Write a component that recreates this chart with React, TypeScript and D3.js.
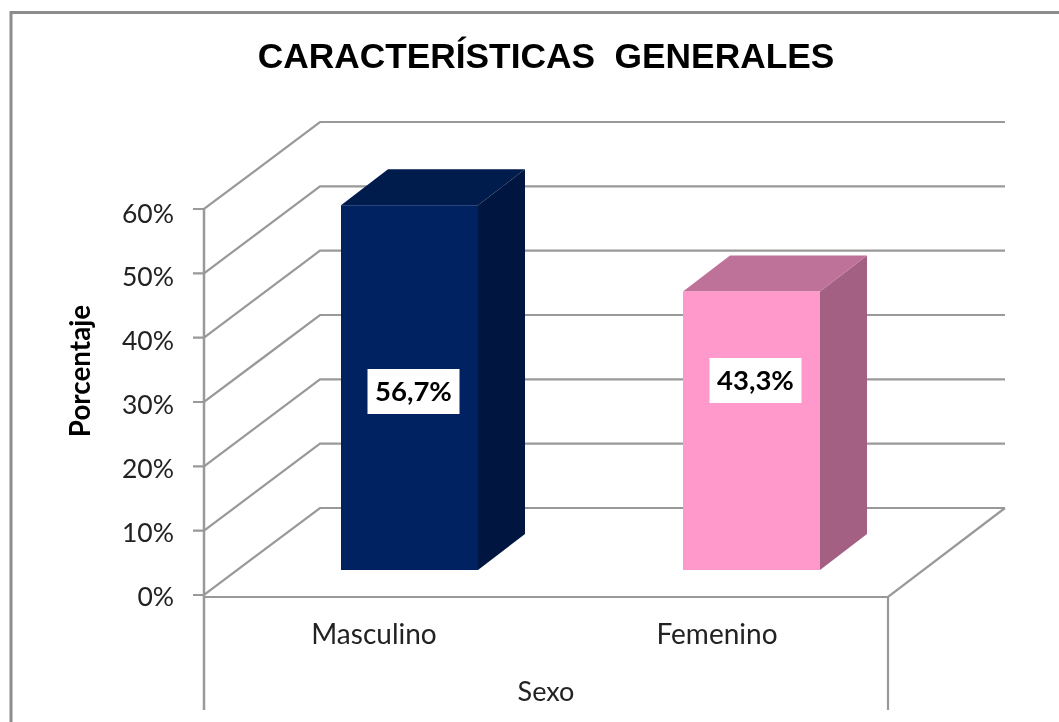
import React from "react";
import * as d3 from "d3";

const categories = ["Masculino", "Femenino"];
const values = [56.7, 43.3];
const valueLabels = ["56,7%", "43,3%"];
const ticks = [0, 10, 20, 30, 40, 50, 60];
const frontColors = ["#002060", "#ff99cc"];
const topColors = ["#001a4d", "#bf7299"];
const sideColors = ["#00173f", "#a36083"];

const W = 1059, H = 722;
const GRID = "#999999";
const y = d3.scaleLinear().domain([0, 60]).range([595, 209]);
const yLabel = d3.scaleLinear().domain([0, 60]).range([596, 213]);
const barX = d3.scaleBand().domain(categories).range([204, 888]);
const axisFont = "Lato, 'Open Sans', sans-serif";

export default function App() {
  const barW = 137;
  const dx = 116, dy = 87;
  const bdx = 47, bdy = 36;
  const baseOffset = 25;
  const depthShift = 34.5;
  const line = d3.line();
  return (
    <svg width={W} height={H} style={{ position: "absolute", left: 0, top: 0, background: "#fff" }}>
      <defs>
        <filter id="soft" x="-2%" y="-2%" width="104%" height="104%">
          <feGaussianBlur stdDeviation="0.55" />
        </filter>
      </defs>
      <g filter="url(#soft)">
        <path d="M11,722V12.5H1059" fill="none" stroke="#8c8c8c" strokeWidth={3} />
        <text x={546} y={68} textAnchor="middle" fontFamily="'Liberation Sans', Arial, sans-serif" fontWeight="bold" fontSize={35.3} fill="#000" xmlSpace="preserve">CARACTERÍSTICAS  GENERALES</text>
        {ticks.map((t) => (
          <g key={t}>
            <path d={line([[193, y(t)], [204, y(t)], [204 + dx, y(t) - dy], [1005, y(t) - dy]]) ?? ""} fill="none" stroke={GRID} strokeWidth={2.2} />
            <text x={174} y={yLabel(t) + 9.5} textAnchor="end" fontFamily={axisFont} fontSize={26.5} fill="#222">{t}%</text>
          </g>
        ))}
        <path d={line([[204, y(60)], [204, 710]]) ?? ""} fill="none" stroke={GRID} strokeWidth={2.5} />
        <path d={line([[204, 597], [888, 597], [1005, 508]]) ?? ""} fill="none" stroke={GRID} strokeWidth={2.2} />
        <path d={line([[888, 597], [888, 710]]) ?? ""} fill="none" stroke={GRID} strokeWidth={2.2} />
        {categories.map((c, i) => {
          const cx = barX(c)! + barX.bandwidth() / 2;
          const x0 = cx - barW / 2 + depthShift;
          const x1 = x0 + barW;
          const base = y(0) - baseOffset;
          const top = y(values[i]) - baseOffset;
          return (
            <g key={c}>
              <path d={line([[x1, top], [x1 + bdx, top - bdy], [x1 + bdx, base - bdy], [x1, base]])! + "Z"} fill={sideColors[i]} />
              <path d={line([[x0, top], [x0 + bdx, top - bdy], [x1 + bdx, top - bdy], [x1, top]])! + "Z"} fill={topColors[i]} />
              <rect x={x0} y={top} width={barW} height={base - top} fill={frontColors[i]} />
            </g>
          );
        })}
        {categories.map((c, i) => {
          const cx = barX(c)! + barX.bandwidth() / 2;
          const lx = cx + 38.5;
          const ly = i === 0 ? 391 : 380;
          return (
            <g key={c + "l"}>
              <rect x={lx - 46} y={ly - 22} width={92} height={45} fill="#fff" />
              <text x={lx} y={ly + 10} textAnchor="middle" fontFamily={axisFont} fontWeight="bold" fontSize={27.5} fill="#000">{valueLabels[i]}</text>
              <text x={cx - (i === 0 ? 1 : 0)} y={644} textAnchor="middle" fontFamily={axisFont} fontSize={28} fill="#222">{c}</text>
            </g>
          );
        })}
        <text x={546} y={701} textAnchor="middle" fontFamily={axisFont} fontSize={27} fill="#222">Sexo</text>
        <text transform="translate(90,371) rotate(-90)" textAnchor="middle" fontFamily={axisFont} fontWeight="bold" fontSize={27.8} fill="#000">Porcentaje</text>
      </g>
    </svg>
  );
}
